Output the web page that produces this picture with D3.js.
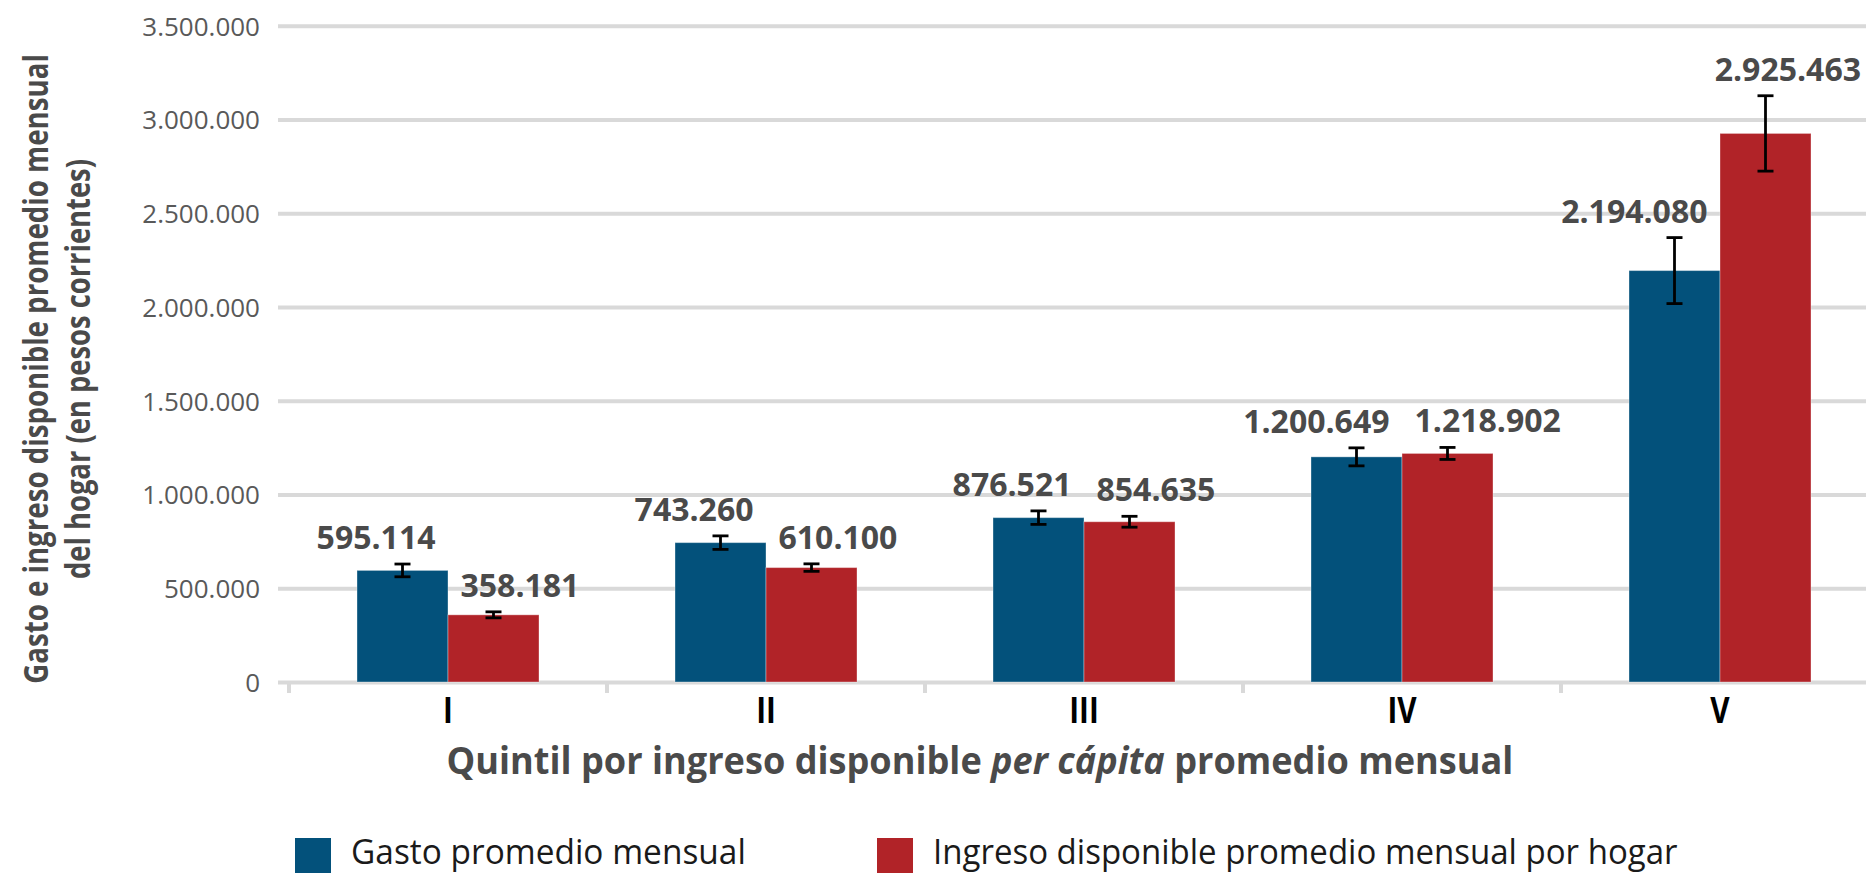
<!DOCTYPE html>
<html>
<head>
<meta charset="utf-8">
<script src="https://cdn.jsdelivr.net/npm/d3@7"></script>
<style>
  html, body { margin: 0; padding: 0; background: #fff; overflow: hidden; }
  svg { display: block; font-family: 'Open Sans', 'Noto Sans', sans-serif; }
</style>
</head>
<body>
<svg id="chart" width="1866" height="873"></svg>
<script>
// values
const quintiles = ['I', 'II', 'III', 'IV', 'V'];
const gasto = [595114, 743260, 876521, 1200649, 2194080];
const ingreso = [358181, 610100, 854635, 1218902, 2925463];
// half-width of the error bars (estimated)
const gastoErr = [34000, 36000, 36000, 48000, 176000];
const ingresoErr = [16000, 20000, 29000, 32000, 201000];
const yTicks = [0, 500000, 1000000, 1500000, 2000000, 2500000, 3000000, 3500000];
const seriesNames = ['Gasto promedio mensual', 'Ingreso disponible promedio mensual por hogar'];
const seriesKeys = ['gasto', 'ingreso'];

const colors = { gasto: '#03517b', ingreso: '#b12328' };
const gridColor = '#d9d9d9';

const svg = d3.select('#chart');
const W = 1866;
const locale = d3.formatLocale({ decimal: ',', thousands: '.', grouping: [3], currency: ['$', ''] });
const fmt = locale.format(',d');

const x = d3.scaleBand().domain(quintiles).range([289, 289 + 5 * 318]).padding(0);
const xs = d3.scaleBand().domain(seriesKeys).range([x.bandwidth() / 2 - 91, x.bandwidth() / 2 + 91]);
const y = d3.scaleLinear().domain([0, 3500000]).range([682, 25.7]);

// squeeze a text horizontally around cx so it spans `target` px
function fitX(sel, target, cx) {
    const w = sel.node().getBBox().width;
    const s = target / w;
    sel.attr('transform', `translate(${cx},0) scale(${s},1) translate(${-cx},0)`);
}

// gridlines + y tick labels
const yAxis = svg.append('g').attr('transform', 'translate(278,0)')
    .call(d3.axisLeft(y).tickValues(yTicks).tickSizeInner(-(W - 278)).tickSizeOuter(0).tickPadding(18).tickFormat(fmt))
    .attr('font-family', null);
yAxis.select('.domain').remove();
yAxis.selectAll('line').attr('stroke', gridColor).attr('stroke-width', 4);
yAxis.selectAll('text').attr('fill', '#595959').style('font-size', '26px').attr('dy', '0.36em');

// tick marks at the quintile boundaries
svg.append('g').selectAll('line').data(quintiles).join('line')
    .attr('x1', d => x(d)).attr('x2', d => x(d))
    .attr('y1', y(0)).attr('y2', y(0) + 11)
    .attr('stroke', gridColor).attr('stroke-width', 4);

// x labels
const xAxis = svg.append('g').attr('transform', `translate(0,${y(0)})`)
    .call(d3.axisBottom(x).tickSize(0).tickPadding(0))
    .attr('font-family', null);
xAxis.select('.domain').remove();
xAxis.selectAll('text').attr('fill', '#000').attr('dy', null).attr('y', 41)
    .style('font-size', '35px').style('font-weight', 700);
xAxis.selectAll('.tick text').each(function () { fitX(d3.select(this), this.getBBox().width * 0.85, 0); });

// bars
const rows = quintiles.map((q, i) => ({
    q,
    vals: [
        { key: 'gasto', v: gasto[i], e: gastoErr[i] },
        { key: 'ingreso', v: ingreso[i], e: ingresoErr[i] }
    ]
}));

const groups = svg.append('g').selectAll('g').data(rows).join('g')
    .attr('transform', d => `translate(${x(d.q)},0)`);

groups.selectAll('rect').data(d => d.vals).join('rect')
    .attr('x', d => xs(d.key)).attr('width', xs.bandwidth())
    .attr('y', d => y(d.v)).attr('height', d => y(0) - y(d.v))
    .attr('fill', d => colors[d.key])
    .attr('stroke', '#ffffff').attr('stroke-opacity', 0.35).attr('stroke-width', 1);

// error bars
const eb = groups.selectAll('g.err').data(d => d.vals).join('g').attr('class', 'err')
    .attr('transform', d => `translate(${xs(d.key) + xs.bandwidth() / 2},0)`);
eb.append('line').attr('y1', d => y(d.v + d.e)).attr('y2', d => y(d.v - d.e));
eb.append('line').attr('x1', -8).attr('x2', 8).attr('y1', d => y(d.v + d.e)).attr('y2', d => y(d.v + d.e));
eb.append('line').attr('x1', -8).attr('x2', 8).attr('y1', d => y(d.v - d.e)).attr('y2', d => y(d.v - d.e));
eb.selectAll('line').attr('stroke', '#000').attr('stroke-width', 2.8);

// value labels, pushed apart when the pair would collide, kept inside the picture
groups.each(function (d) {
    const g = d3.select(this);
    const x0 = x(d.q);
    const labels = d.vals.map(v => g.append('text')
        .attr('x', xs(v.key) + xs.bandwidth() / 2)
        .attr('y', y(v.v + v.e) - 15)
        .attr('text-anchor', 'middle')
        .attr('fill', '#4a4a4a')
        .style('font-size', '32px').style('font-weight', 700)
        .text(fmt(v.v)));
    const w0 = labels[0].node().getComputedTextLength();
    const w1 = labels[1].node().getComputedTextLength();
    const need = (w0 + w1) / 2 + 25;
    const have = xs.bandwidth();
    if (need > have) {
        const shift = (need - have) / 2;
        labels[0].attr('x', +labels[0].attr('x') - shift);
        labels[1].attr('x', +labels[1].attr('x') + shift);
    }
    const right = x0 + (+labels[1].attr('x')) + w1 / 2;
    if (right > W - 5) labels[1].attr('x', +labels[1].attr('x') - (right - (W - 5)));
});

// y title (two lines, rotated)
const yTitle = ['Gasto e ingreso disponible promedio mensual', 'del hogar (en pesos corrientes)'];
const yTitleX = [48, 90];
const yTitleLen = [630, 420];
yTitle.forEach((t, i) => {
    const g = svg.append('g').attr('transform', `translate(${yTitleX[i]},369) rotate(-90)`);
    const txt = g.append('text').attr('text-anchor', 'middle').attr('fill', '#4a4a4a')
        .style('font-size', '34px').style('font-weight', 700).text(t);
    fitX(txt, yTitleLen[i], 0);
});

// x title
const xt = svg.append('text').attr('x', 980).attr('y', 774).attr('text-anchor', 'middle')
    .attr('fill', '#4a4a4a').style('font-size', '37px').style('font-weight', 700);
xt.append('tspan').text('Quintil por ingreso disponible ');
xt.append('tspan').style('font-style', 'italic').text('per cápita');
xt.append('tspan').text(' promedio mensual');
fitX(xt, 1067, 980);

// legend
const legendX = [295, 877];
const legendLen = [395, 745];
seriesKeys.forEach((k, i) => {
    svg.append('rect').attr('x', legendX[i]).attr('y', 838).attr('width', 36).attr('height', 36)
        .attr('fill', colors[k]);
    const t = svg.append('text').attr('x', legendX[i] + 56).attr('y', 864)
        .attr('fill', '#1a1a1a').style('font-size', '35px').text(seriesNames[i]);
    fitX(t, legendLen[i], legendX[i] + 56);
});
</script>
</body>
</html>
